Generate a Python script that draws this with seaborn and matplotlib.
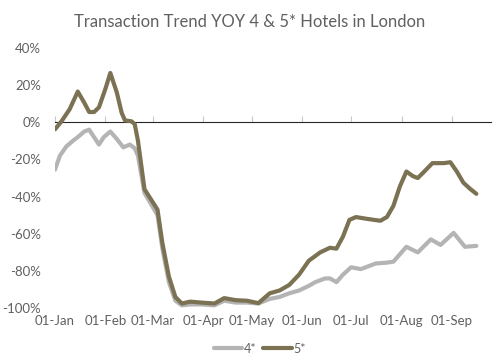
import matplotlib
matplotlib.use("Agg")
import matplotlib.pyplot as plt
import matplotlib.dates as mdates
import matplotlib.ticker as mticker
import pandas as pd
import seaborn as sns

# 5* hotels, YoY change in transactions (%)
dates_5 = ["2020-01-01", "2020-01-05", "2020-01-10", "2020-01-15", "2020-01-19",
           "2020-01-22", "2020-01-25", "2020-01-28", "2020-02-01", "2020-02-04",
           "2020-02-08", "2020-02-11", "2020-02-13", "2020-02-17", "2020-02-19",
           "2020-02-21", "2020-02-25", "2020-02-29", "2020-03-04", "2020-03-07",
           "2020-03-11", "2020-03-15", "2020-03-19", "2020-03-24", "2020-03-31",
           "2020-04-08", "2020-04-14", "2020-04-21", "2020-04-28", "2020-05-05",
           "2020-05-12", "2020-05-18", "2020-05-24", "2020-05-30", "2020-06-05",
           "2020-06-12", "2020-06-18", "2020-06-22", "2020-06-26", "2020-06-30",
           "2020-07-04", "2020-07-11", "2020-07-19", "2020-07-23", "2020-07-27",
           "2020-07-31", "2020-08-04", "2020-08-08", "2020-08-11", "2020-08-15",
           "2020-08-20", "2020-08-27", "2020-08-31", "2020-09-04", "2020-09-08",
           "2020-09-12", "2020-09-16"]
vals_5 = [-3.8, 0.5, 7, 16.5, 10.5,
          5.5, 5.5, 8, 18, 26.5,
          16, 5, 1, 0.5, -1,
          -10, -36, -41.5, -47, -65,
          -83, -94, -97.5, -96.5, -97,
          -97.5, -94.6, -95.7, -96, -97.3,
          -92, -90.5, -87.5, -82, -74.5,
          -70, -67.5, -68, -61.5, -52.5,
          -51, -52, -53, -51, -45,
          -34.5, -26.5, -29, -30, -26.5,
          -22, -22, -21.5, -26.5, -32.5,
          -35.7, -38.5]

# 4* hotels
dates_4 = ["2020-01-01", "2020-01-04", "2020-01-08", "2020-01-12", "2020-01-15",
           "2020-01-19", "2020-01-22", "2020-01-25", "2020-01-28", "2020-01-31",
           "2020-02-04", "2020-02-08", "2020-02-12", "2020-02-16", "2020-02-19",
           "2020-02-21", "2020-02-25", "2020-02-29", "2020-03-04", "2020-03-07",
           "2020-03-11", "2020-03-15", "2020-03-19", "2020-03-24", "2020-03-31",
           "2020-04-08", "2020-04-14", "2020-04-21", "2020-04-28", "2020-05-05",
           "2020-05-12", "2020-05-18", "2020-05-24", "2020-05-30", "2020-06-05",
           "2020-06-09", "2020-06-15", "2020-06-18", "2020-06-22", "2020-06-26",
           "2020-07-01", "2020-07-07", "2020-07-16", "2020-07-23", "2020-07-27",
           "2020-08-04", "2020-08-11", "2020-08-19", "2020-08-25", "2020-09-02",
           "2020-09-09", "2020-09-16"]
vals_4 = [-25.5, -18, -13, -10, -8,
          -5, -4, -8, -12, -8,
          -5, -9, -13.5, -12, -14,
          -18, -38, -44, -50, -68,
          -86, -96, -98.5, -98, -98,
          -98.5, -96, -97, -97, -97.5,
          -95, -94, -92, -90.5, -88,
          -86, -84, -84, -86, -82,
          -78, -79, -76, -75.5, -75,
          -67, -70, -63, -66, -59.5,
          -67, -66.5]

month_ticks = ["2020-01-01", "2020-02-01", "2020-03-01", "2020-04-01", "2020-05-01",
               "2020-06-01", "2020-07-01", "2020-08-01", "2020-09-01"]

df4 = pd.DataFrame({"date": pd.to_datetime(dates_4), "yoy": vals_4})
df5 = pd.DataFrame({"date": pd.to_datetime(dates_5), "yoy": vals_5})

sns.set_style("white")
plt.rcParams["font.family"] = ["Lato", "DejaVu Sans"]

c4 = "#b4b4b4"
c5 = "#7b7253"
txt = "#606060"

fig = plt.figure(figsize=(5, 3.6), dpi=100)
ax = fig.add_axes([0.11, 0.144, 0.872, 0.723])

sns.lineplot(data=df4, x="date", y="yoy", ax=ax, color=c4, linewidth=3,
             label="4*", solid_joinstyle="round", solid_capstyle="round")
sns.lineplot(data=df5, x="date", y="yoy", ax=ax, color=c5, linewidth=3,
             label="5*", solid_joinstyle="round", solid_capstyle="round")

ax.set_ylim(-100, 40)
ax.set_xlim(pd.Timestamp("2020-01-01"), pd.Timestamp("2020-09-25"))
ax.set_yticks(range(-100, 41, 20))
ax.yaxis.set_major_formatter(mticker.FuncFormatter(lambda v, p: f"{v:.0f}%"))
ax.set_xticks(pd.to_datetime(month_ticks))
ax.xaxis.set_major_formatter(mdates.DateFormatter("%d-%b"))
ax.tick_params(axis="both", length=0, labelsize=9.5, colors=txt)
ax.tick_params(axis="y", pad=10)
ax.tick_params(axis="x", pad=5)
ax.set_xlabel("")
ax.set_ylabel("")
sns.despine(ax=ax, left=True, bottom=True)

# zero line acting as the category axis, with small month tick marks
zero_ax = ax.secondary_xaxis(100 / 140)
zero_ax.set_xticks(pd.to_datetime(month_ticks))
zero_ax.tick_params(axis="x", length=4, width=0.8, color="#c8c8c8",
                    labelbottom=False, labeltop=False, direction="out")
zero_ax.spines["bottom"].set_color(c5)
zero_ax.spines["bottom"].set_linewidth(1.5)

fig.suptitle("Transaction Trend YOY 4 & 5* Hotels in London", y=0.96,
             fontsize=12, color=txt)

leg = ax.legend(loc="upper center", bbox_to_anchor=(0.47, -0.09), ncol=2,
                frameon=False, fontsize=9, handlelength=2.3, handletextpad=0.15,
                columnspacing=0.5, labelcolor=txt)

fig.savefig("out.png", dpi=100)
